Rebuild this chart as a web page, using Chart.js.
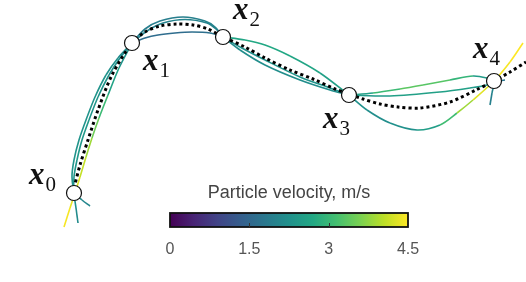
<!DOCTYPE html>
<html>
<head>
<meta charset="utf-8">
<script src="https://cdn.jsdelivr.net/npm/chart.js@4.4.1/dist/chart.umd.min.js"></script>
<style>
    html, body { margin: 0; padding: 0; background: #fff; }
    #wrap { position: relative; width: 526px; height: 282px; overflow: hidden; }
    #main { position: absolute; left: 0; top: 0; }
    #bar { position: absolute; left: 130px; top: 180px; }
</style>
</head>
<body>
<div id="wrap">
    <canvas id="main" width="526" height="282"></canvas>
    <canvas id="bar" width="318" height="93"></canvas>
</div>
<script>
// Waypoints x0..x4 (plot units, y grows downward)
const pointX = [74, 132, 223, 349, 494];
const pointY = [193, 43, 37, 95, 81];
const pointNames = ['0', '1', '2', '3', '4'];

// Mean path (dotted)
const meanX = [74, 80, 88, 98, 112, 132, 145, 160, 177, 193, 208, 223, 245, 265, 290, 313, 335, 349, 363, 380, 398, 420, 450, 476, 494, 510, 526];
const meanY = [188, 165, 140, 110, 75, 43, 32, 26, 24, 25, 29, 37, 47, 58, 70, 79, 89, 94, 99, 104, 107, 108, 102, 90, 81, 72, 62];

// Sampled trajectories: x, y and particle velocity (m/s) per sample
const trajAX = [90, 82, 75, 72, 74, 79, 86, 95, 106, 118, 132];
const trajAY = [206, 200, 193, 177, 160, 140, 120, 97, 75, 58, 43];
const trajAV = [2.0, 2.1, 2.2, 2.3, 2.3, 2.3, 2.3, 2.3, 2.3, 2.2, 2.1];

const trajBX = [78, 76, 74, 74, 77, 82, 89, 98, 109, 120, 132];
const trajBY = [223, 208, 193, 177, 160, 140, 120, 97, 75, 58, 43];
const trajBV = [2.1, 2.2, 2.3, 2.3, 2.4, 2.4, 2.4, 2.3, 2.3, 2.2, 2.1];

const trajCX = [64, 70, 75, 80, 86, 92, 99, 108, 119, 132];
const trajCY = [227, 208, 193, 177, 157, 138, 118, 95, 68, 43];
const trajCV = [4.5, 4.4, 4.3, 4.2, 4.0, 3.7, 3.3, 2.8, 2.4, 2.2];

const trajDX = [132, 145, 160, 183, 205, 215, 223];
const trajDY = [43, 29, 21, 17, 21, 27, 37];
const trajDV = [1.9, 1.9, 1.9, 1.9, 2.0, 2.0, 2.0];

const trajEX = [132, 147, 163, 185, 207, 216, 223];
const trajEY = [43, 31, 23, 19.5, 23, 29, 37];
const trajEV = [2.0, 2.0, 2.0, 2.0, 2.0, 2.0, 2.0];

const trajFX = [132, 145, 158, 175, 192, 210, 223];
const trajFY = [43, 38, 35, 33, 32, 33, 37];
const trajFV = [1.6, 1.6, 1.6, 1.6, 1.6, 1.7, 1.8];

const trajGX = [223, 245, 265, 290, 320, 349];
const trajGY = [37, 40, 45, 56, 73, 95];
const trajGV = [2.6, 2.7, 2.7, 2.7, 2.6, 2.5];

const trajHX = [223, 240, 265, 300, 330, 349];
const trajHY = [37, 47, 60, 77, 88, 95];
const trajHV = [2.2, 2.2, 2.3, 2.3, 2.3, 2.2];

const trajIX = [223, 240, 265, 300, 330, 349];
const trajIY = [37, 50, 65, 80, 90, 95];
const trajIV = [2.1, 2.2, 2.2, 2.2, 2.2, 2.2];

const trajJX = [349, 373, 400, 423, 450, 473, 487, 494, 505];
const trajJY = [95, 93, 89, 85, 80, 76, 78, 81, 80];
const trajJV = [2.3, 2.8, 3.3, 3.4, 3.2, 2.7, 2.2, 1.9, 1.6];

const trajKX = [349, 390, 440, 470, 487, 494, 492, 490];
const trajKY = [95, 96, 92, 88, 85, 81, 93, 105];
const trajKV = [2.3, 2.5, 2.6, 2.5, 2.3, 2.1, 2.0, 1.9];

const trajLX = [349, 367, 390, 417, 440, 457, 473, 494, 510, 523];
const trajLY = [95, 110, 123, 130, 125, 113, 100, 81, 62, 43];
const trajLV = [2.3, 2.2, 2.2, 2.3, 2.7, 3.5, 4.2, 4.4, 4.5, 4.5];

// Colour bar
const velMin = 0;
const velMax = 4.5;
const barTicks = [0, 1.5, 3, 4.5];

const viridisStops = ['#440154', '#482475', '#414487', '#355f8d', '#2a788e', '#21918c', '#22a884', '#44bf70', '#7ad151', '#bddf26', '#fde725'];

function hexToRgb(h) {
    return [parseInt(h.slice(1, 3), 16), parseInt(h.slice(3, 5), 16), parseInt(h.slice(5, 7), 16)];
}

function viridis(t) {
    t = Math.max(0, Math.min(1, t));
    const pos = t * (viridisStops.length - 1);
    const i = Math.min(Math.floor(pos), viridisStops.length - 2);
    const f = pos - i;
    const a = hexToRgb(viridisStops[i]);
    const b = hexToRgb(viridisStops[i + 1]);
    const c = a.map((v, k) => Math.round(v + (b[k] - v) * f));
    return `rgb(${c[0]},${c[1]},${c[2]})`;
}

const trajectories = [
    [trajAX, trajAY, trajAV], [trajBX, trajBY, trajBV], [trajCX, trajCY, trajCV],
    [trajDX, trajDY, trajDV], [trajEX, trajEY, trajEV], [trajFX, trajFY, trajFV],
    [trajGX, trajGY, trajGV], [trajHX, trajHY, trajHV], [trajIX, trajIY, trajIV],
    [trajJX, trajJY, trajJV], [trajKX, trajKY, trajKV], [trajLX, trajLY, trajLV]
];

const toPoints = (xs, ys) => xs.map((x, i) => ({ x: x, y: ys[i] }));

const datasets = [];

// waypoints on top
datasets.push({
    data: toPoints(pointX, pointY),
    showLine: false,
    pointRadius: 7.5,
    pointBackgroundColor: '#ffffff',
    pointBorderColor: '#111111',
    pointBorderWidth: 1.2,
    order: 0
});

// dotted mean path
datasets.push({
    data: toPoints(meanX, meanY),
    showLine: true,
    pointRadius: 0,
    borderColor: '#000000',
    borderWidth: 3,
    borderDash: [3, 3],
    borderCapStyle: 'butt',
    tension: 0.3,
    clip: false,
    order: 1
});

trajectories.forEach(([xs, ys, vs]) => {
    datasets.push({
        data: toPoints(xs, ys),
        showLine: true,
        pointRadius: 0,
        borderWidth: 1.6,
        borderColor: viridis(vs[0] / velMax),
        tension: 0.3,
        clip: false,
        order: 2,
        segment: {
            borderColor: c => viridis(((vs[c.p0DataIndex] + vs[c.p1DataIndex]) / 2 - velMin) / (velMax - velMin))
        }
    });
});

// Labels x_i next to the waypoints
const labelOffsets = [[-45, -9], [11, 27], [10, -18], [-26, 33], [-21, -23]];

const waypointLabels = {
    id: 'waypointLabels',
    afterDatasetsDraw(chart) {
        const ctx = chart.ctx;
        const sx = chart.scales.x, sy = chart.scales.y;
        ctx.save();
        ctx.fillStyle = '#111';
        ctx.textBaseline = 'alphabetic';
        ctx.textAlign = 'left';
        pointX.forEach((px, i) => {
            const x = sx.getPixelForValue(px) + labelOffsets[i][0];
            const y = sy.getPixelForValue(pointY[i]) + labelOffsets[i][1];
            ctx.font = 'italic bold 31px "Liberation Serif", "DejaVu Serif", serif';
            ctx.fillText('x', x, y);
            const w = ctx.measureText('x').width;
            ctx.font = '21px "Liberation Serif", "DejaVu Serif", serif';
            ctx.fillText(pointNames[i], x + w + 1, y + 7);
        });
        ctx.restore();
    }
};

new Chart(document.getElementById('main'), {
    type: 'scatter',
    data: { datasets: datasets },
    options: {
        responsive: false,
        devicePixelRatio: 1,
        animation: false,
        layout: { padding: 0, autoPadding: false },
        plugins: { legend: { display: false }, tooltip: { enabled: false } },
        scales: {
            x: { type: 'linear', min: 0, max: 526, display: false },
            y: { type: 'linear', min: 0, max: 282, reverse: true, display: false }
        }
    },
    plugins: [waypointLabels]
});

// Colour bar drawn inside the chart area of a second chart
const colorBar = {
    id: 'colorBar',
    beforeDatasetsDraw(chart) {
        const { ctx, chartArea: a } = chart;
        const sx = chart.scales.x;
        ctx.save();
        const g = ctx.createLinearGradient(a.left, 0, a.right, 0);
        viridisStops.forEach((c, i) => g.addColorStop(i / (viridisStops.length - 1), c));
        ctx.fillStyle = g;
        ctx.fillRect(a.left, a.top, a.right - a.left, a.bottom - a.top);
        ctx.strokeStyle = '#111';
        ctx.lineWidth = 1.8;
        ctx.strokeRect(a.left, a.top, a.right - a.left, a.bottom - a.top);
        ctx.lineWidth = 1;
        ctx.strokeStyle = '#333';
        barTicks.forEach(v => {
            if (v <= velMin || v >= velMax) return;
            const x = Math.round(sx.getPixelForValue(v)) + 0.5;
            ctx.beginPath();
            ctx.moveTo(x, a.bottom);
            ctx.lineTo(x, a.bottom - 4);
            ctx.stroke();
        });
        ctx.restore();
    }
};

new Chart(document.getElementById('bar'), {
    type: 'scatter',
    data: { datasets: [{ data: [] }] },
    options: {
        responsive: false,
        devicePixelRatio: 1,
        animation: false,
        layout: { padding: { left: 40, right: 40, top: 2, bottom: 1 }, autoPadding: false },
        plugins: {
            legend: { display: false },
            tooltip: { enabled: false },
            title: {
                display: true,
                text: 'Particle velocity, m/s',
                color: '#444',
                font: { family: '"Liberation Sans", Arial, sans-serif', size: 18, weight: 'normal' },
                padding: { top: 0, bottom: 9.4 }
            }
        },
        scales: {
            x: {
                type: 'linear',
                min: velMin,
                max: velMax,
                afterBuildTicks: s => { s.ticks = barTicks.map(v => ({ value: v })); },
                grid: { display: false, drawTicks: false },
                border: { display: false },
                ticks: {
                    color: '#555',
                    padding: 13,
                    font: { family: '"Liberation Sans", Arial, sans-serif', size: 16 },
                    maxRotation: 0,
                    callback: v => String(v)
                }
            },
            y: { display: false, min: 0, max: 1 }
        }
    },
    plugins: [colorBar]
});
</script>
</body>
</html>
